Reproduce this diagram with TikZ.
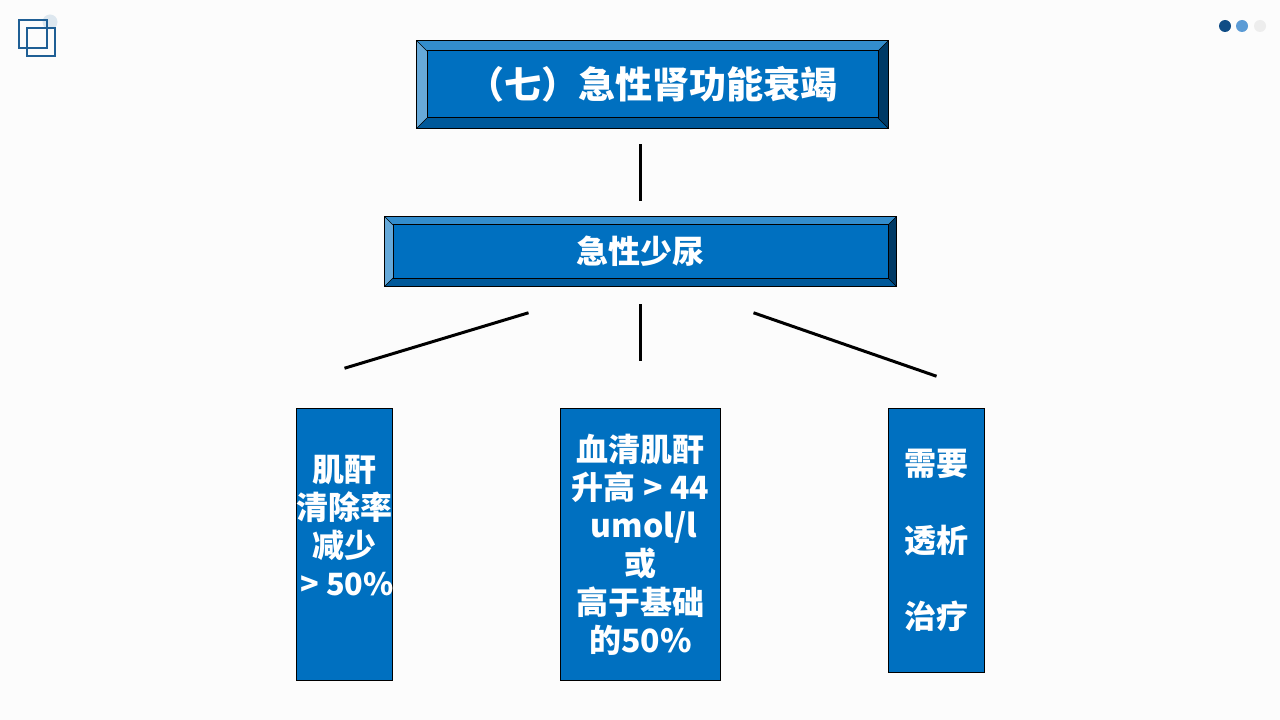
\documentclass[tikz,border=0pt]{standalone}
\usepackage{fontspec}
\setmainfont{Noto Sans CJK SC}
\usetikzlibrary{positioning,calc}
\def\px{0.75pt}
\definecolor{boxblue}{HTML}{0070C0}
\definecolor{bevelt}{HTML}{338DCD}
\definecolor{bevell}{HTML}{66A9D9}
\definecolor{bevelb}{HTML}{00599A}
\definecolor{bevelr}{HTML}{003A66}
\definecolor{logoblue}{HTML}{1F5F95}
\definecolor{dotdark}{HTML}{0F4C85}
\definecolor{dotmid}{HTML}{5B9BD5}
\tikzstyle{block} = [draw=black, fill=boxblue, rectangle, inner sep=0pt, text=white, align=center, font=\fontsize{24pt}{28.7pt}\selectfont\bfseries]
\tikzstyle{link} = [line width=2.25pt, black]
\tikzstyle{dot} = [circle, inner sep=0pt, minimum size=12*\px]
\tikzset{bevel/.style={
    path picture={
        \coordinate (sw) at (path picture bounding box.south west);
        \coordinate (ne) at (path picture bounding box.north east);
        \coordinate (nw) at (path picture bounding box.north west);
        \coordinate (se) at (path picture bounding box.south east);
        \coordinate (isw) at ($(sw)+(#1*\px,#1*\px)$);
        \coordinate (ine) at ($(ne)+(-#1*\px,-#1*\px)$);
        \coordinate (inw) at ($(nw)+(#1*\px,-#1*\px)$);
        \coordinate (ise) at ($(se)+(-#1*\px,#1*\px)$);
        \fill [bevelt] (nw) -- (ne) -- (ine) -- (inw) -- cycle;
        \fill [bevell] (nw) -- (sw) -- (isw) -- (inw) -- cycle;
        \fill [bevelb] (sw) -- (se) -- (ise) -- (isw) -- cycle;
        \fill [bevelr] (ne) -- (se) -- (ise) -- (ine) -- cycle;
        \draw [black, line width=0.5pt] (nw) -- (inw) (ne) -- (ine) (sw) -- (isw) (se) -- (ise);
        \draw [black, line width=0.75pt] (isw) rectangle (ine);
        }
    }
}
\begin{document}
\begin{tikzpicture}[x=0.75pt, y=-0.75pt, node distance=100*\px]
    \useasboundingbox (0,0) rectangle (1280,720);
    \fill [white!99!black] (0,0) rectangle (1280,720);

    % corner marks
    \node [dot, fill=logoblue!15, minimum size=15*\px] (halo) at (50,22) {};
    \draw [logoblue, line width=1pt] (19,20) rectangle (47,48);
    \draw [logoblue, line width=1pt] (27,28) rectangle (55,56);
    \node [dot, fill=dotdark] (dota) at (1225,26) {};
    \node [dot, fill=dotmid, right of=dota, node distance=17*\px] (dotb) {};
    \node [dot, fill=black!7, right of=dotb, node distance=18*\px] (dotc) {};

    % boxes
    \node [block, bevel=10.5, minimum width=472*\px, minimum height=88*\px, font=\fontsize{27.8pt}{32pt}\selectfont\bfseries] (title) at (652.5,84.5) {（七）急性肾功能衰竭};
    \node [block, bevel=8.5, minimum width=512*\px, minimum height=70*\px, below of=title, node distance=167*\px, xshift=-12*\px] (main) {急性少尿};

    \node [block, minimum width=160*\px, minimum height=272*\px, below of=main, node distance=293*\px] (mid) {血清肌酐\\升高 > 44\\~umol/l\\或\\高于基础\\的50\%};
    \node [block, minimum width=96*\px, minimum height=272*\px, left of=mid, node distance=296*\px] (left) {肌酐\\清除率\\减少\\\makebox[0pt]{\hspace{4pt}\fontsize{23pt}{28.7pt}\selectfont > 50\%}\\~};
    \node [block, minimum width=96*\px, minimum height=264*\px, right of=mid, node distance=296*\px, yshift=4*\px] (right) {需要\\~\\透析\\~\\治疗};

    % connectors
    \coordinate (la) at ($(main.south)+(-112*\px,-26*\px)$);
    \coordinate (lb) at ($(left.north)+(0,40*\px)$);
    \coordinate (ra) at ($(main.south)+(113*\px,-26*\px)$);
    \coordinate (rb) at ($(right.north)+(0,32*\px)$);

    \draw [link, shorten <=15.5*\px, shorten >=15.5*\px] (main |- title.south) -- (main.north);
    \draw [link, shorten <=17.5*\px, shorten >=47.5*\px] (main.south) -- (mid.north);
    \draw [link] (la) -- (lb);
    \draw [link] (ra) -- (rb);
\end{tikzpicture}
\end{document}
